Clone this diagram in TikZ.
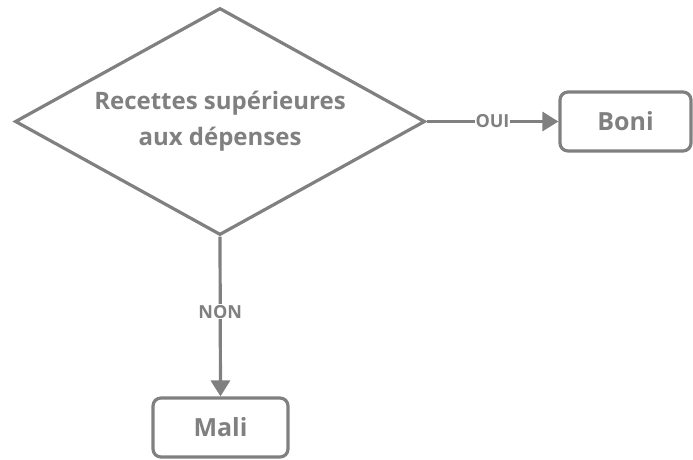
\documentclass[tikz,border=0pt]{standalone}
\usepackage{fontspec}
\setmainfont{Open Sans}
\usetikzlibrary{shapes.geometric,arrows.meta}
\definecolor{fg}{HTML}{808080}
\tikzset{
  every node/.style={font=\bfseries, text=fg},
  box/.style={draw=fg, line width=3.2pt, rounded corners=8pt, inner sep=0pt},
  dec/.style={draw=fg, line width=3.2pt, diamond, inner sep=0pt, align=center},
  conn/.style={draw=fg, line width=3.2pt, -{Triangle[length=16pt,width=19pt]}},
  lab/.style={fill=white, inner sep=1pt, font=\bfseries\fontsize{18}{20}\selectfont}
}
\begin{document}
\begin{tikzpicture}[x=1pt,y=-1pt]
\useasboundingbox (0,0) rectangle (693,459);
\node[dec, minimum width=410pt, minimum height=227pt] (d) at (220,121.5) {};
\node[font=\bfseries\fontsize{24}{36}\selectfont, align=center] (t) at (220,121) {Recettes supérieures\\aux dépenses};
\node[box, minimum width=131pt, minimum height=59pt, font=\bfseries\fontsize{25}{28}\selectfont] (boni) at (625.5,121.5) {Boni};
\node[box, minimum width=135pt, minimum height=59pt, font=\bfseries\fontsize{25}{28}\selectfont] (mali) at (220.5,427.5) {Mali};
\draw[conn] (d.east) -- node[lab] {OUI} (boni.west);
\draw[conn] (d.south) -- node[lab, pos=0.47] {NON} (mali.north);
\end{tikzpicture}
\end{document}
